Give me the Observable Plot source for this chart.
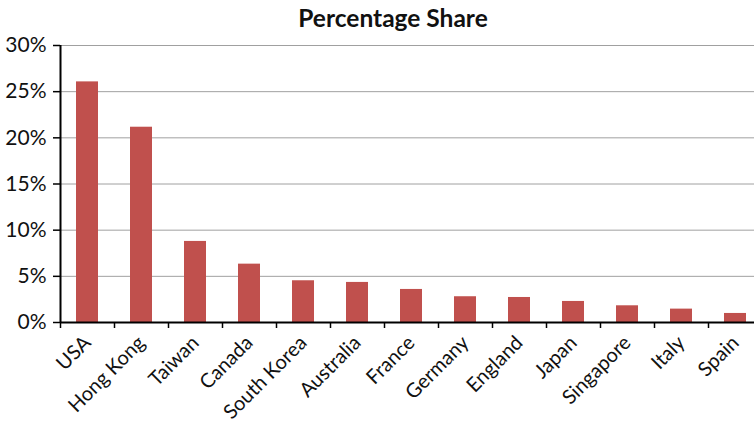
<!DOCTYPE html>
<html>
<head>
<meta charset="utf-8">
<script src="https://cdn.jsdelivr.net/npm/d3@7"></script>
<script src="https://cdn.jsdelivr.net/npm/@observablehq/plot@0.6"></script>
<style>
  html, body { margin: 0; padding: 0; background: #fff; overflow: hidden; }
  #title { width: 754px; height: 30px; box-sizing: border-box; padding-left: 32px; text-align: center;
           font-family: Lato, sans-serif; font-weight: bold; font-size: 24.5px; line-height: 35px; color: #111; }
</style>
</head>
<body>
<div id="title">Percentage Share</div>
<div id="chart"></div>
<script>
const countries = ["USA", "Hong Kong", "Taiwan", "Canada", "South Korea", "Australia", "France", "Germany", "England", "Japan", "Singapore", "Italy", "Spain"];
const shares = [26.06, 21.15, 8.78, 6.32, 4.52, 4.34, 3.58, 2.79, 2.71, 2.28, 1.81, 1.45, 0.98];
const yTicks = [0, 5, 10, 15, 20, 25, 30];

const data = countries.map((c, i) => ({country: c, share: shares[i]}));

const chart = Plot.plot({
  width: 754,
  height: 392,
  marginTop: 15,
  marginBottom: 100,
  marginLeft: 60,
  marginRight: 0,
  style: {fontFamily: "Lato, sans-serif", fontSize: "21px", color: "#111", background: "#fff", overflow: "visible"},
  x: {domain: countries, range: [60, 762], paddingInner: 0.6, paddingOuter: 0.3, label: null},
  y: {domain: [0, 30], label: null},
  marks: [
    Plot.ruleY(yTicks.slice(1), {stroke: "#a0a0a0", strokeWidth: 1}),
    Plot.barY(data, {x: "country", y: "share", fill: "#C0504D"}),
    Plot.ruleX(countries, {x: d => d, y1: 0, y2: 0, dx: -27, insetBottom: -6, stroke: "#000", strokeWidth: 1.5}),
    Plot.ruleX([countries[0]], {x: d => d, y1: 0, y2: 30, dx: -27, stroke: "#000", strokeWidth: 2}),
    Plot.ruleY([0], {stroke: "#000", strokeWidth: 2}),
    Plot.axisY({ticks: yTicks, tickFormat: d => d + "%", tickSize: 7, tickPadding: 7, stroke: "#000", strokeWidth: 1.5, fontSize: 21, label: null}),
    Plot.axisX({tickSize: 0, tickRotate: -45, tickPadding: 17, fontSize: 20, label: null})
  ]
});
document.getElementById("chart").appendChild(chart);
</script>
</body>
</html>
